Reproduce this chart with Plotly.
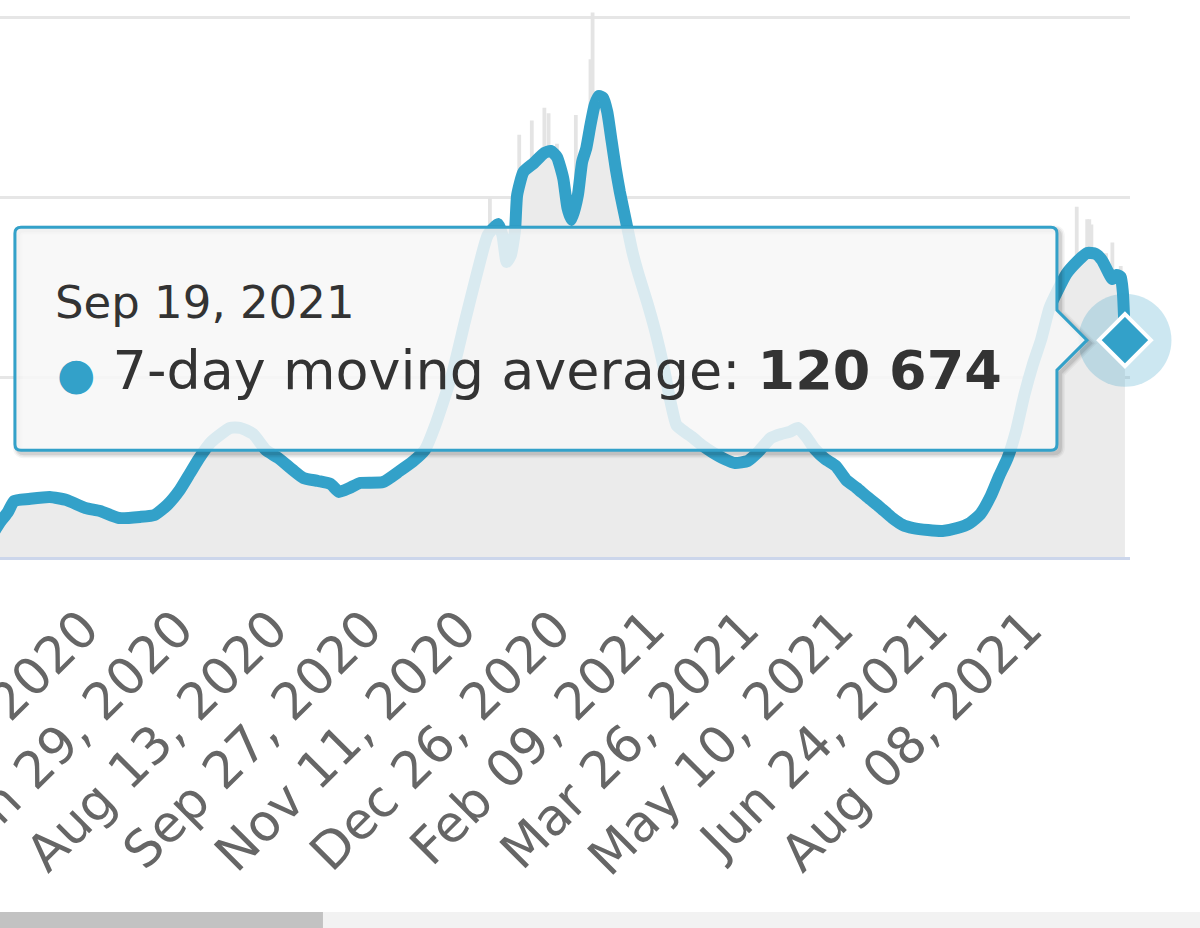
import pandas as pd
import plotly.graph_objects as go

# 7-day moving average of daily cases
avg_dates = [
    '2020-03-26', '2020-03-31', '2020-04-04', '2020-04-07', '2020-04-14', '2020-04-24',
    '2020-05-02', '2020-05-11', '2020-05-18', '2020-05-27', '2020-06-06', '2020-06-13',
    '2020-06-19', '2020-06-25', '2020-06-30', '2020-07-04', '2020-07-10', '2020-07-19',
    '2020-07-24', '2020-07-30', '2020-08-05', '2020-08-11', '2020-08-18', '2020-08-23',
    '2020-08-30', '2020-09-05', '2020-09-09', '2020-09-14', '2020-09-19', '2020-09-30',
    '2020-10-08', '2020-10-14', '2020-10-20', '2020-10-25', '2020-11-02', '2020-11-08',
    '2020-11-14', '2020-11-19', '2020-11-24', '2020-11-26', '2020-11-28', '2020-11-30',
    '2020-12-02', '2020-12-03', '2020-12-06', '2020-12-11', '2020-12-16', '2020-12-19',
    '2020-12-22', '2020-12-25', '2020-12-27', '2020-12-29', '2021-01-01', '2021-01-03',
    '2021-01-05', '2021-01-07', '2021-01-09', '2021-01-11', '2021-01-13', '2021-01-15',
    '2021-01-17', '2021-01-19', '2021-01-21', '2021-01-24', '2021-01-27', '2021-01-30',
    '2021-02-03', '2021-02-07', '2021-02-11', '2021-02-14', '2021-02-17', '2021-02-21',
    '2021-02-25', '2021-03-01', '2021-03-06', '2021-03-12', '2021-03-17', '2021-03-23',
    '2021-03-28', '2021-04-03', '2021-04-08', '2021-04-12', '2021-04-16', '2021-04-20',
    '2021-04-24', '2021-04-29', '2021-05-04', '2021-05-09', '2021-05-14', '2021-05-19',
    '2021-05-25', '2021-05-31', '2021-06-05', '2021-06-10', '2021-06-17', '2021-06-24',
    '2021-07-01', '2021-07-07', '2021-07-12', '2021-07-17', '2021-07-21', '2021-07-25',
    '2021-07-29', '2021-08-02', '2021-08-06', '2021-08-10', '2021-08-14', '2021-08-18',
    '2021-08-22', '2021-08-27', '2021-09-01', '2021-09-05', '2021-09-08', '2021-09-11',
    '2021-09-13', '2021-09-15', '2021-09-17', '2021-09-18', '2021-09-19',
]
avg_values = [
    9500, 18900, 25000, 31200, 32300, 33400,
    31700, 27300, 25600, 21700, 22300, 23400,
    28900, 37300, 46800, 54500, 64000, 71800,
    71800, 68500, 59600, 55100, 48400, 44000,
    42300, 40600, 36200, 38400, 41200, 41700,
    47900, 52900, 59600, 73500, 102000, 130800,
    158600, 179200, 185300, 179000, 164200, 168000,
    182000, 201500, 214300, 219300, 224900, 226000,
    222600, 210700, 194300, 187600, 201500, 219900,
    227600, 240500, 251600, 256600, 255500, 247700,
    232100, 216500, 203200, 186500, 169800, 157000,
    141900, 125200, 105200, 87400, 73500, 69600,
    66200, 62300, 58400, 54500, 52300, 53400,
    58400, 66200, 68500, 69600, 71800, 66800,
    60100, 54500, 50700, 42900, 38400, 33400,
    27800, 21700, 17800, 16100, 15000, 14500,
    16100, 18900, 23900, 34000, 45100, 55100,
    70000, 90200, 106900, 121000, 138600, 148600,
    157500, 164200, 169200, 168700, 165300, 158600,
    154700, 157000, 155800, 147500, 120674,
]

# daily columns that stick out above the average line
spike_dates = [
    '2020-11-20', '2020-12-04', '2020-12-10', '2020-12-16', '2020-12-18', '2020-12-22',
    '2020-12-31', '2021-01-07', '2021-01-08', '2021-08-27', '2021-09-01', '2021-09-02',
    '2021-09-03', '2021-09-10', '2021-09-13', '2021-09-17',
]
spike_values = [
    200000, 235000, 243000, 250000, 247000, 230000,
    246000, 277000, 303000, 195000, 188000, 188000,
    185000, 169000, 175000, 162000,
]

tick_dates = [
    '2020-05-15', '2020-06-29', '2020-08-13', '2020-09-27', '2020-11-11', '2020-12-26',
    '2021-02-09', '2021-03-26', '2021-05-10', '2021-06-24', '2021-08-08',
]

x_range = ['2020-03-31 06:00', '2021-09-21 10:00']
y_range = [0, 310000]
grid_values = [100000, 200000, 300000]

blue = '#33a1c9'
font = 'DejaVu Sans'

last_date = avg_dates[-1]
last_value = avg_values[-1]

fig = go.Figure()

# packed daily columns, drawn as the grey mass under the average
fig.add_trace(go.Scatter(
    x=avg_dates, y=avg_values, mode='lines', fill='tozeroy',
    fillcolor='#ebebeb', line=dict(width=0, shape='spline', smoothing=0.5),
    hoverinfo='skip', showlegend=False,
))
fig.add_trace(go.Bar(
    x=spike_dates, y=spike_values, width=[1.8 * 86400000] * len(spike_dates),
    marker=dict(color='#e4e4e4', line=dict(width=0)), showlegend=False,
))
fig.add_trace(go.Scatter(
    x=avg_dates, y=avg_values, mode='lines', name='7-day moving average',
    line=dict(color=blue, width=12, shape='spline', smoothing=0.5),
    showlegend=False,
))
# hover halo and diamond marker on the last point
fig.add_trace(go.Scatter(
    x=[last_date], y=[last_value], mode='markers', cliponaxis=False,
    marker=dict(symbol='circle', size=93, color='rgba(51,161,201,0.25)', line=dict(width=0)),
    showlegend=False,
))
fig.add_trace(go.Scatter(
    x=[last_date], y=[last_value], mode='markers', cliponaxis=False,
    marker=dict(symbol='diamond', size=40, color=blue, line=dict(color='white', width=4)),
    showlegend=False,
))


def tooltip_path(dx=0, dy=0):
    # box with callout, in pixels relative to the hovered point (y up)
    l, r, t, b, rad = -1110 + dx, -68 + dx, 113 + dy, -110 + dy, 6
    tip = -38 + dx
    return (f'M {l + rad},{t} L {r - rad},{t} Q {r},{t} {r},{t - rad} '
            f'L {r},{30 + dy} L {tip},{dy} L {r},{-30 + dy} '
            f'L {r},{b + rad} Q {r},{b} {r - rad},{b} '
            f'L {l + rad},{b} Q {l},{b} {l},{b + rad} '
            f'L {l},{t - rad} Q {l},{t} {l + rad},{t} Z')


shapes = []
for w, a in [(10, 0.04), (7, 0.06), (4, 0.09)]:
    shapes.append(dict(
        type='path', path=tooltip_path(3, -3), xref='x', yref='y',
        xsizemode='pixel', ysizemode='pixel', xanchor=last_date, yanchor=last_value,
        line=dict(color=f'rgba(0,0,0,{a})', width=w), fillcolor='rgba(0,0,0,0)', layer='above',
    ))
shapes.append(dict(
    type='path', path=tooltip_path(), xref='x', yref='y',
    xsizemode='pixel', ysizemode='pixel', xanchor=last_date, yanchor=last_value,
    line=dict(color=blue, width=3), fillcolor='rgba(247,247,247,0.85)', layer='above',
))
# navigator scrollbar strip at the bottom
shapes.append(dict(type='rect', xref='paper', yref='paper', x0=0, x1=1.07, y0=-0.6373, y1=-0.67,
                   fillcolor='#f2f2f2', line=dict(width=0), layer='above'))
shapes.append(dict(type='rect', xref='paper', yref='paper', x0=0, x1=0.2858, y0=-0.6373, y1=-0.67,
                   fillcolor='#c2c2c2', line=dict(width=0), layer='above'))

value_text = f'{last_value:,}'.replace(',', ' ')
date_text = pd.Timestamp(last_date).strftime('%b %d, %Y')

annotations = [
    dict(x=last_date, y=last_value, xref='x', yref='y', showarrow=False,
         xanchor='left', yanchor='middle', xshift=-1072, yshift=38,
         text=date_text, font=dict(family=font, size=45, color='#333333')),
    dict(x=last_date, y=last_value, xref='x', yref='y', showarrow=False,
         xanchor='left', yanchor='middle', xshift=-1070, yshift=-30,
         text=(f'<span style="color:{blue};font-size:44px">●</span> '
               f'7-day moving average: <b>{value_text}</b>'),
         font=dict(family=font, size=54, color='#333333')),
]

fig.update_layout(
    width=1200, height=928,
    margin=dict(l=0, r=70, t=0, b=371),
    paper_bgcolor='white', plot_bgcolor='white',
    barmode='overlay', showlegend=False,
    shapes=shapes, annotations=annotations,
    xaxis=dict(
        type='date', range=x_range, tickvals=tick_dates, tickformat='%b %d, %Y',
        tickangle=-45, tickfont=dict(family=font, size=51, color='#666666'),
        ticklabeloverflow='allow', ticklabelshift=-10, ticklabelstandoff=10,
        ticks='outside', ticklen=8, tickcolor='rgba(0,0,0,0)',
        showgrid=False, showline=True, linecolor='#ccd6eb', linewidth=3,
        zeroline=False, automargin=False,
    ),
    yaxis=dict(
        range=y_range, tickvals=grid_values, showticklabels=False,
        showgrid=True, gridcolor='#e6e6e6', gridwidth=3, zeroline=False,
        automargin=False,
    ),
)

# the page body has a default 8px margin; drop it so the figure fills the window
fig.write_html('out.html', config={'displayModeBar': False},
               post_script="document.body.style.margin='0';")
